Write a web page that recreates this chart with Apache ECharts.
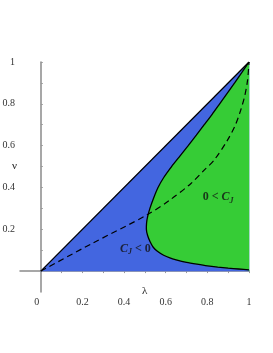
<!DOCTYPE html>
<html><head><meta charset="utf-8">
<script src="https://cdn.jsdelivr.net/npm/echarts@6/dist/echarts.min.js"></script>
<style>html,body{margin:0;padding:0;background:#fff}#c{width:273px;height:353px}</style>
</head><body><div id="c"></div>
<script>
// Tick labels
const xLabelValues = [0, 0.2, 0.4, 0.6, 0.8, 1];
const yLabelValues = [0.2, 0.4, 0.6, 0.8, 1];
const tickValues = [0.1, 0.2, 0.3, 0.4, 0.5, 0.6, 0.7, 0.8, 0.9, 1];

// Region "C_J < 0": triangle under nu = lambda
const blueRegion = [[0, 0], [1, 1], [1, 0]];
const diagonal = [[0, 0], [1, 1]];

// Boundary curve C_J = 0 (lambda, nu): lower branch from bottom-right to the nose
const boundaryLower = [
  [1.00, 0.006], [0.95, 0.010], [0.90, 0.014], [0.85, 0.019], [0.80, 0.025],
  [0.75, 0.033], [0.70, 0.042], [0.65, 0.054], [0.62, 0.063], [0.59, 0.076],
  [0.56, 0.095], [0.54, 0.114], [0.525, 0.14], [0.513, 0.17], [0.507, 0.20]
];
// upper branch from the nose to the top-right corner
const boundaryUpper = [
  [0.508, 0.23], [0.513, 0.26], [0.524, 0.30], [0.542, 0.35], [0.563, 0.40],
  [0.592, 0.45], [0.628, 0.50], [0.668, 0.55], [0.708, 0.60], [0.747, 0.65],
  [0.785, 0.70], [0.823, 0.75], [0.859, 0.80], [0.895, 0.85], [0.931, 0.90],
  [0.966, 0.95], [1.00, 1.00]
];

// Dashed curve
const dashed = [
  [0, 0], [0.244, 0.131], [0.509, 0.268], [0.62, 0.34], [0.72, 0.418],
  [0.792, 0.49], [0.832, 0.53], [0.896, 0.625], [0.935, 0.7], [0.96, 0.769],
  [0.98, 0.84], [0.993, 0.912], [1, 1]
];

// Region labels
const labelPos = { positive: [0.852, 0.353], negative: [0.454, 0.108] };

const boundary = boundaryLower.concat(boundaryUpper);
const greenRegion = [[1, 0]].concat(boundary);

const BLUE = '#4366E0';
const GREEN = '#36CC36';
const SERIF = '"Liberation Serif", "DejaVu Serif", serif';

function polygonRenderer(points, color) {
  return function (params, api) {
    return {
      type: 'polygon',
      shape: { points: points.map(p => api.coord(p)) },
      style: { fill: color, stroke: color, lineWidth: 0.5 }
    };
  };
}

const rich = {
  a: { fontFamily: SERIF, fontWeight: 'bold', fontSize: 12, lineHeight: 15, color: '#111', verticalAlign: 'middle' },
  c: { fontFamily: SERIF, fontWeight: 'bold', fontStyle: 'italic', fontSize: 12, lineHeight: 15, color: '#111', verticalAlign: 'middle' },
  s: { fontFamily: SERIF, fontWeight: 'bold', fontStyle: 'italic', fontSize: 8, lineHeight: 8, color: '#111', verticalAlign: 'bottom' }
};

const chart = echarts.init(document.getElementById('c'), null, { renderer: 'canvas' });
chart.setOption({
  animation: false,
  backgroundColor: '#fff',
  grid: { left: 20, right: 24, top: 62, bottom: 61, outerBoundsMode: 'none', containLabel: false },
  xAxis: {
    type: 'value', min: -0.1, max: 1,
    axisLine: { onZero: true, lineStyle: { color: '#8a8a8a', width: 1.5 } },
    splitLine: { show: false },
    axisTick: { show: true, customValues: tickValues, length: 2, inside: false, lineStyle: { color: '#999' } },
    axisLabel: {
      customValues: xLabelValues, margin: 5, fontFamily: SERIF, fontSize: 10, color: '#333',
      formatter: v => v === 0 ? '{z|0}' : String(v),
      rich: { z: { fontFamily: SERIF, fontSize: 10, color: '#333', padding: [0, 8, 0, 0] } }
    }
  },
  yAxis: {
    type: 'value', min: -0.1, max: 1,
    axisLine: { onZero: true, lineStyle: { color: '#8a8a8a', width: 1.5 } },
    splitLine: { show: false },
    axisTick: { show: true, customValues: tickValues, length: 2, inside: true, lineStyle: { color: '#999' } },
    axisLabel: { customValues: yLabelValues, margin: 5, fontFamily: SERIF, fontSize: 10, color: '#333', formatter: v => String(v) }
  },
  graphic: [
    { type: 'text', left: 12, top: 161, style: { text: 'ν', font: '11px ' + SERIF, fill: '#222' }, z: 10 },
    { type: 'text', left: 142, top: 286, style: { text: 'λ', font: '11px ' + SERIF, fill: '#222' }, z: 10 }
  ],
  series: [
    { type: 'custom', silent: true, data: [[0, 0]], renderItem: polygonRenderer(blueRegion, BLUE), z: 1 },
    { type: 'custom', silent: true, data: [[0, 0]], renderItem: polygonRenderer(greenRegion, GREEN), z: 2 },
    { type: 'line', data: diagonal, symbol: 'none', lineStyle: { color: '#000', width: 1.3 }, z: 3 },
    { type: 'line', data: boundary, symbol: 'none', smooth: 0.2, lineStyle: { color: '#000', width: 1.3 }, z: 3 },
    { type: 'line', data: dashed, symbol: 'none', smooth: 0.3, lineStyle: { color: '#000', width: 1.2, type: [6, 4] }, z: 4 },
    {
      type: 'scatter', symbolSize: 0, z: 5, silent: true,
      data: [labelPos.positive, labelPos.negative],
      label: {
        show: true, position: 'inside',
        formatter: p => p.dataIndex === 0 ? '{a|0 < }{c|C}{s|J}' : '{c|C}{s|J}{a| < 0}',
        rich: rich
      }
    }
  ]
});
</script>
</body></html>
